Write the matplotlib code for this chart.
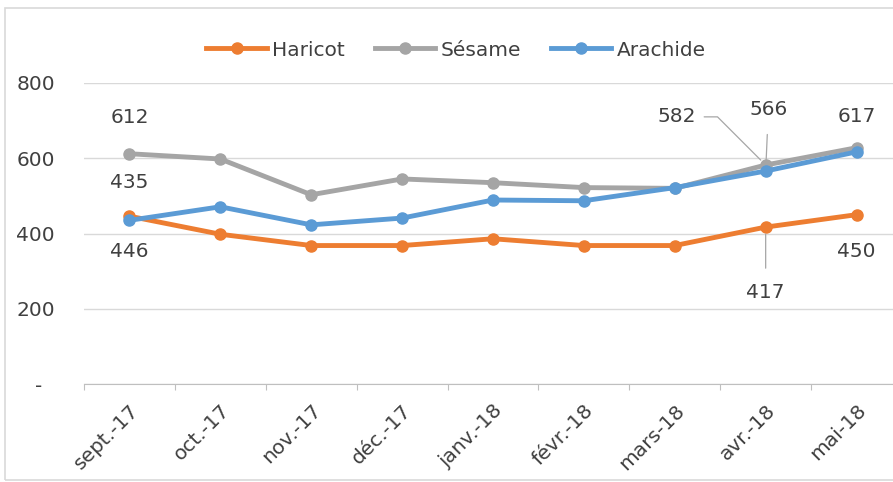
import matplotlib.pyplot as plt
from matplotlib.patches import Rectangle

# data
mois = ['sept.-17', 'oct.-17', 'nov.-17', 'déc.-17', 'janv.-18', 'févr.-18', 'mars-18', 'avr.-18', 'mai-18']
haricot = [446, 398, 368, 368, 386, 368, 368, 417, 450]
sesame = [612, 598, 503, 545, 535, 522, 520, 582, 628]
arachide = [435, 471, 423, 441, 489, 487, 522, 566, 617]

plt.rcParams['font.family'] = ['DejaVu Sans']
fs = 14.5
txt = '#404040'

fig = plt.figure(figsize=(8.93, 4.82), dpi=100)
fig.patches.append(Rectangle((5 / 893, 2 / 482), 1.0, 472 / 482, transform=fig.transFigure,
                             fill=False, edgecolor='#D9D9D9', linewidth=1.2))
ax = fig.add_axes([84 / 893, 1 - 384 / 482, 818 / 893, 301 / 482])

x = range(len(mois))
ax.plot(x, haricot, color='#ED7D31', lw=3.5, marker='o', ms=8, label='Haricot', zorder=3)
ax.plot(x, sesame, color='#A5A5A5', lw=3.5, marker='o', ms=8, label='Sésame', zorder=3)
ax.plot(x, arachide, color='#5B9BD5', lw=3.5, marker='o', ms=8, label='Arachide', zorder=4)

ax.set_xlim(-0.5, len(mois) - 0.5)
ax.set_ylim(0, 800)
ax.set_yticks([0, 200, 400, 600, 800])
ax.set_yticklabels(['-  ', '200', '400', '600', '800'])
ax.yaxis.grid(True, color='#D9D9D9', lw=1)
ax.set_axisbelow(True)
for s in ['top', 'right', 'left']:
    ax.spines[s].set_visible(False)
ax.spines['bottom'].set_color('#BFBFBF')
ax.tick_params(axis='y', length=0, labelsize=fs, colors=txt, pad=21)

# category boundaries get the tick marks, labels sit in between
ax.set_xticks([i - 0.5 for i in range(len(mois) + 1)], minor=False)
ax.set_xticklabels([])
ax.set_xticks(list(x), minor=True)
ax.set_xticklabels(mois, minor=True, rotation=45, ha='right', rotation_mode='anchor')
ax.tick_params(axis='x', which='major', length=4, color='#BFBFBF')
ax.tick_params(axis='x', which='minor', length=0, labelsize=fs, colors=txt, pad=12)

# data labels
lab = dict(fontsize=fs, color=txt, ha='center', va='center')
line = dict(arrowstyle='-', color='#A6A6A6', lw=0.9, shrinkA=0, shrinkB=5)
ax.text(0, 707, str(sesame[0]), **lab)
ax.text(0, 535, str(arachide[0]), **lab)
ax.text(0, 351, str(haricot[0]), **lab)
ax.annotate(str(sesame[7]), xy=(7, sesame[7]), xytext=(6.02, 710),
            arrowprops=dict(line, shrinkA=4, relpos=(1, 0.5),
                            connectionstyle='angle,angleA=0,angleB=135,rad=0'), **lab)
ax.annotate(str(arachide[7]), xy=(7, arachide[7]), xytext=(7.03, 729), arrowprops=dict(line, shrinkA=9), **lab)
ax.annotate(str(haricot[7]), xy=(7, haricot[7]), xytext=(7.0, 242), arrowprops=dict(line, shrinkA=9), **lab)
ax.text(8, 710, str(arachide[8]), **lab)
ax.text(8, 351, str(haricot[8]), **lab)

fig.legend(loc='center', bbox_to_anchor=(456 / 893, 1 - 50 / 482), ncol=3, frameon=False,
           fontsize=fs, handlelength=3.0, columnspacing=1.5, handletextpad=0.25,
           labelcolor=txt)

fig.savefig('out.png', dpi=100)
